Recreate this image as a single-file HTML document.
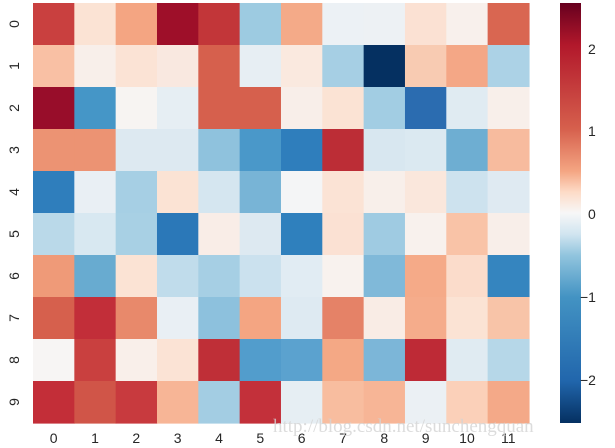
<!DOCTYPE html>
<html><head><meta charset="utf-8"><style>
html,body{margin:0;padding:0;background:#fff;width:615px;height:448px;overflow:hidden}
svg{display:block}
text{font-family:"Liberation Sans",sans-serif;fill:#262626;font-size:14px}
</style></head><body>
<svg id="s" width="615" height="448" xmlns="http://www.w3.org/2000/svg">
<defs><linearGradient id="g" x1="0" y1="0" x2="0" y2="1">
<stop offset="0" stop-color="#67001f"/><stop offset="0.1" stop-color="#b2182b"/><stop offset="0.3" stop-color="#d6604d"/><stop offset="0.4" stop-color="#f4a582"/><stop offset="0.45" stop-color="#fddbc7"/><stop offset="0.5" stop-color="#f7f7f7"/><stop offset="0.55" stop-color="#d1e5f0"/><stop offset="0.6" stop-color="#92c5de"/><stop offset="0.7" stop-color="#4393c3"/><stop offset="0.9" stop-color="#2166ac"/><stop offset="1" stop-color="#053061"/>
</linearGradient></defs>
<g id="cells"></g>
<rect x="560" y="3" width="21" height="420" fill="url(#g)"/>
<text x="588" y="54">2</text>
<text x="588" y="136">1</text>
<text x="588" y="219">0</text>
<text x="580" y="302">−1</text>
<text x="580" y="385">−2</text>
<g id="lab"></g>
<text x="273" y="432" style="font-family:'Liberation Serif',serif;font-size:19px;fill:#d4d4d4;opacity:0.8">http://blog.csdn.net/sunchengquan</text>
</svg>
<script>
var C=[
"c9403f fbe3d4 f4a582 9e0f29 c23639 9dcbe1 f4aa88 ecf1f5 edf1f4 fbe1d3 f8f0ec d96651",
"f9c0a4 f8efea fbe3d5 f9e8e0 d6604d e7eef3 fae9df a6cfe4 053061 f8cbb2 f4a786 acd2e6",
"980d2a 4596c7 f7f4f2 e6eef3 d6604d d6604d f8eee9 fbe3d4 a2cde3 2b6cb0 e0ebf2 f8efea",
"ec9373 ec9373 dde9f1 dde9f1 8fc2dd 4a98c9 2f7ebc bc2d36 d8e7f0 dbe9f1 6eaed2 f7bb9e",
"2f7ebc e9eff4 a6cfe4 fbe3d4 d5e6f0 78b4d6 f4f5f6 fbe3d5 f8efea fae7dc cde2ee dfeaf2",
"bad9e9 d8e8f1 a8d0e4 2b78b8 f9ede7 dde9f1 2f80bd fbe1d3 9fcbe2 f8f1ed f9c3a7 f8eee9",
"ef9a78 68abd0 fbe3d4 c0dceb a6cfe4 cbe1ee e1ecf3 f8f2ee 80b9d9 f5aa88 fbdccb 3585bf",
"d6604d c22e39 e8896b e9eff4 8dc1dd f4a582 deeaf2 e58267 f9ece5 f5ac8b fbe3d4 f8c4a8",
"f7f5f4 c9403f f9efea fbe3d5 bf2f37 529dcc 5ba2cf f4a885 7cb6d8 be2a36 e0ebf2 b6d7e8",
"c32e38 d05548 c83a3e f7b596 a3cde3 c3303a e6eef3 f8bd9f f7b596 ebf0f4 fbd0b9 f4a988"];
var NS="http://www.w3.org/2000/svg",g=document.getElementById("cells"),L=document.getElementById("lab");
var x0=33,y0=3,w=41.33,h=42;
C.forEach(function(r,i){r.split(" ").forEach(function(c,j){
var e=document.createElementNS(NS,"rect");
e.setAttribute("x",x0+j*w);e.setAttribute("y",y0+i*h);e.setAttribute("width",w+0.6);e.setAttribute("height",h+0.6);e.setAttribute("fill","#"+c);g.appendChild(e);});});
for(var j=0;j<12;j++){var t=document.createElementNS(NS,"text");t.setAttribute("x",x0+j*w+w/2);t.setAttribute("y",443);t.setAttribute("text-anchor","middle");t.textContent=j;L.appendChild(t);}
for(var i=0;i<10;i++){var t=document.createElementNS(NS,"text");var cy=y0+i*h+h/2;t.setAttribute("transform","translate(19,"+cy+") rotate(-90)");t.setAttribute("text-anchor","middle");t.textContent=i;L.appendChild(t);}
</script>
</body></html>
